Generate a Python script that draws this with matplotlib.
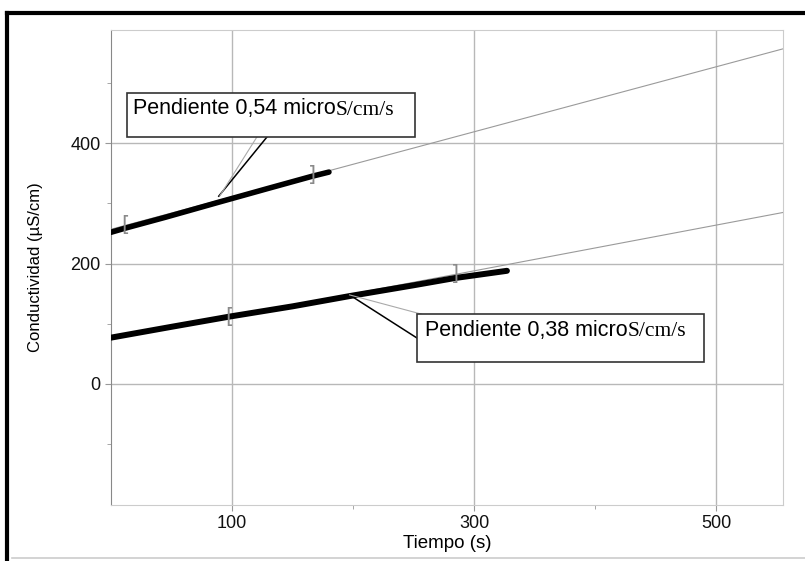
import matplotlib.pyplot as plt
from matplotlib.lines import Line2D
from matplotlib.patches import Rectangle

plt.rcParams['font.family'] = ['Liberation Sans', 'DejaVu Sans']

t_upper = [0, 12, 45, 89, 130, 166, 180]
c_upper = [252, 259, 277, 302, 325, 345, 352]
t_lower = [0, 50, 98, 150, 197, 250, 284, 327]
c_lower = [77, 95, 112, 129, 146, 164, 176, 188]

# linear fits: intercept, slope, fit range
fit_upper = (257, 0.54, 12, 166)
fit_lower = (74, 0.38, 98, 284)
t_span = [0, 555]

labels = ['Pendiente 0,54 micro', 'Pendiente 0,38 micro']
unit = 'S/cm/s'

fig = plt.figure(figsize=(8.05, 5.61), dpi=100)
ax = fig.add_axes([111 / 805, 1 - 505 / 561, 672 / 805, 475 / 561])

# fit lines drawn under the data
for b, m, t0, t1 in (fit_upper, fit_lower):
    ax.plot(t_span, [b + m * t for t in t_span], color='#9a9a9a', lw=0.8, zorder=2)

ax.plot(t_upper, c_upper, color='black', lw=4, solid_capstyle='round', zorder=3)
ax.plot(t_lower, c_lower, color='black', lw=4.3, solid_capstyle='round', zorder=3)

# fit range brackets
for b, m, t0, t1 in (fit_upper, fit_lower):
    ax.text(t0, b + m * t0, '[', color='#8a8a8a', fontsize=15, ha='center', va='center',
            family='DejaVu Sans', zorder=4)
    ax.text(t1, b + m * t1, ']', color='#8a8a8a', fontsize=15, ha='center', va='center',
            family='DejaVu Sans', zorder=4)

ax.set_xlim(0, 555)
ax.set_ylim(-201, 588)
ax.set_xticks([100, 300, 500])
ax.set_xticks([200, 400], minor=True)
ax.set_yticks([0, 200, 400])
ax.set_yticks([-100, 100, 300, 500], minor=True)
ax.grid(True, which='major', color='#b8b8b8', lw=1)
ax.tick_params(which='both', direction='out', color='#999999', labelsize=13, labelcolor='#111111')
ax.tick_params(which='major', length=4)
ax.tick_params(which='minor', length=3)
for side in ['top', 'right', 'bottom']:
    ax.spines[side].set_color('#cccccc')
ax.spines['left'].set_color('#888888')
ax.set_xlabel('Tiempo (s)', fontsize=13.5, labelpad=2)
ax.set_ylabel('Conductividad (µS/cm)', fontsize=12, labelpad=20)

# annotation boxes (data coordinates)
boxes = [(13.2, 410, 237.5, 73), (253, 36.5, 237, 79.5)]
text_pos = [(18.1, 458), (259, 89.6)]
leaders = [
    [((128.7, 410), (89, 312), 'black', 1.1), ((120.4, 410), (90, 313), '#aaaaaa', 0.8)],
    [((253, 76), (197, 148), 'black', 1.1), ((256.5, 116), (197, 148), '#aaaaaa', 0.8)],
]
for (x0, y0, w, h), (tx, ty), lab, lines in zip(boxes, text_pos, labels, leaders):
    for p, q, col, lw in lines:
        ax.plot([p[0], q[0]], [p[1], q[1]], color=col, lw=lw, zorder=5)
    ax.add_patch(Rectangle((x0, y0), w, h, facecolor='white', edgecolor='#333333',
                           lw=1.2, zorder=6))
    t1 = ax.text(tx, ty, lab, fontsize=15.5, ha='left', va='center', zorder=7)
    # serif unit glued to the end of the sans label
    ax.annotate(unit, xy=(1, 0), xycoords=t1, xytext=(0, -0.6), textcoords='offset points',
                va='bottom', ha='left', fontsize=15.5, family='Liberation Serif', zorder=7)

# outer frame
fig.add_artist(Line2D([7 / 805, 7 / 805], [0, 1 - 13 / 561], color='black', lw=3,
                      transform=fig.transFigure))
fig.add_artist(Line2D([7 / 805, 1], [1 - 13 / 561, 1 - 13 / 561], color='black', lw=3,
                      transform=fig.transFigure))
fig.add_artist(Line2D([12 / 805, 1], [3 / 561, 3 / 561], color='#cccccc', lw=1.2,
                      transform=fig.transFigure))

fig.savefig('out.png', dpi=100)
plt.close()
